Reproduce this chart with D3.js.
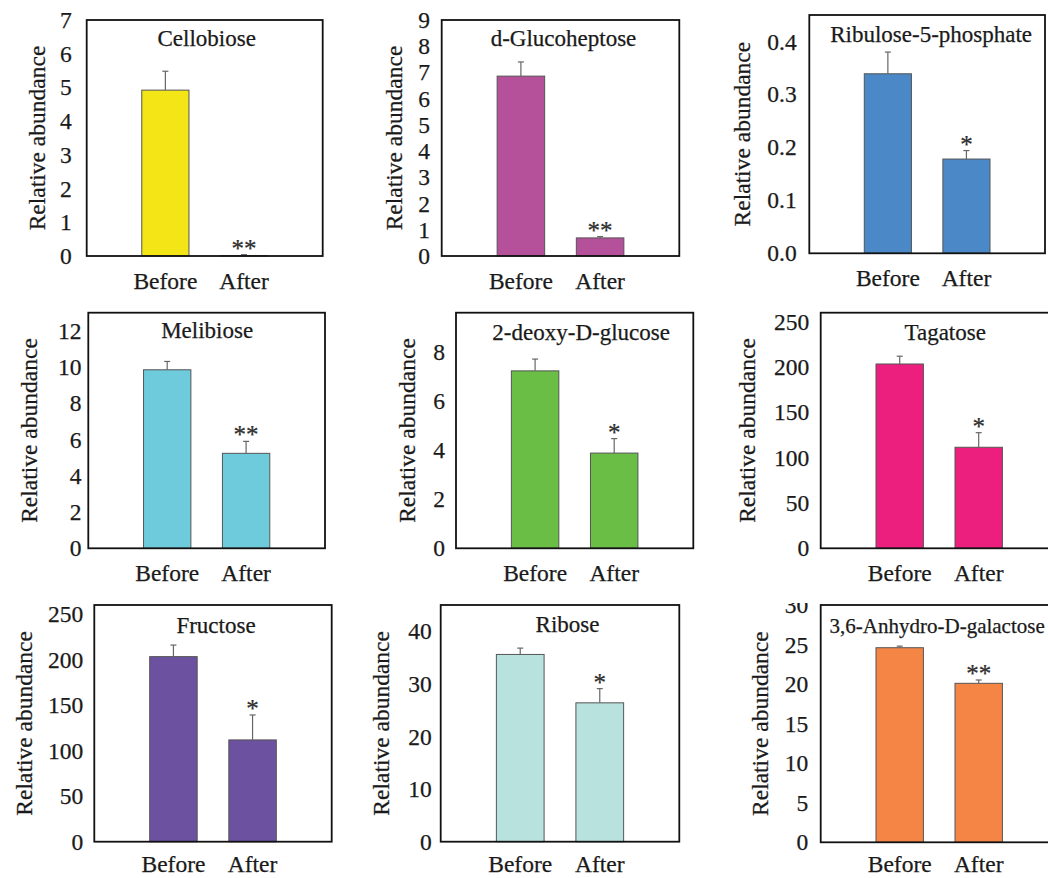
<!DOCTYPE html>
<html><head><meta charset="utf-8">
<script src="https://cdn.jsdelivr.net/npm/d3@7"></script>
<style>
html,body{margin:0;padding:0;background:#fff;}
svg{display:block;}
svg text{font-family:"Liberation Serif","Times New Roman",serif !important;fill:#1a1a1a;stroke:#1a1a1a;stroke-width:0.25px;}
</style></head>
<body>
<svg id="chart" width="1048" height="878"></svg>
<script>
// ---- data ----
const categories = ["Before", "After"];
const compounds = ["Cellobiose", "d-Glucoheptose", "Ribulose-5-phosphate", "Melibiose", "2-deoxy-D-glucose", "Tagatose", "Fructose", "Ribose", "3,6-Anhydro-D-galactose"];
const meanBefore = [4.92, 6.86, 0.339, 9.85, 7.23, 203.4, 203.3, 35.6, 24.6];
const meanAfter  = [0.01, 0.69, 0.178, 5.24, 3.88, 111.5, 111.8, 26.4, 20.1];
const errBefore  = [0.56, 0.54, 0.041, 0.46, 0.48, 8.6, 12.7, 1.2, 0.2];
const errAfter   = [0.03, 0.05, 0.016, 0.66, 0.59, 16.1, 27.4, 2.7, 0.42];
const significance = ["**", "**", "*", "**", "*", "*", "*", "*", "**"];
const yMax = [7, 9, 0.45, 13, 9.6, 260, 260, 45, 30];
const yTickStep = [1, 1, 0.1, 2, 2, 50, 50, 10, 5];
const yTickFormat = ["d", "d", ".1f", "d", "d", "d", "d", "d", "d"];
const barColors = ["#F4E516", "#B5519B", "#4A88C7", "#6ECBDC", "#6ABD45", "#EC1F7E", "#6C51A0", "#B8E2DE", "#F48544"];

// ---- layout ----
const SERIF = "'Liberation Serif', 'Times New Roman', serif";
const frames = [
  {x: 86.7, y: 20, w: 236, h: 236, tickPad: 15, titleDx: 2, titleY: 46, titleSize: 23, yTitleX: 45, xLabY: 32.5},
  {x: 441.7, y: 20, w: 237.6, h: 236, tickPad: 11.7, titleDx: 3, titleY: 46, titleSize: 23, yTitleX: 401.7, xLabY: 32.5},
  {x: 809.3, y: 15, w: 235.7, h: 238.3, tickPad: 12.6, titleDx: 4, titleY: 42, titleSize: 23, yTitleX: 750, xLabY: 32.5},
  {x: 88.3, y: 312.7, w: 236.7, h: 235.6, tickPad: 6.7, titleDx: 0.5, titleY: 338, titleSize: 23, yTitleX: 36.7, xLabY: 33},
  {x: 456, y: 312.7, w: 237.3, h: 235.6, tickPad: 11, titleDx: 6.5, titleY: 340, titleSize: 23, yTitleX: 415, xLabY: 33},
  {x: 820.7, y: 312.7, w: 237, h: 235.6, tickPad: 11.4, titleDx: 6, titleY: 340, titleSize: 23, yTitleX: 755, xLabY: 33},
  {x: 94.3, y: 605, w: 237.4, h: 236.7, tickPad: 11, titleDx: 3, titleY: 632.5, titleSize: 23, yTitleX: 31.7, xLabY: 30},
  {x: 440.7, y: 605, w: 238.6, h: 236.7, tickPad: 9, titleDx: 7.5, titleY: 631.5, titleSize: 23, yTitleX: 389.3, xLabY: 30},
  {x: 820.7, y: 605, w: 237, h: 237.3, tickPad: 12.4, titleDx: -2, titleY: 633, titleSize: 21, yTitleX: 768.3, xLabY: 29.4}
];

const svg = d3.select("#chart");
const defs = svg.append("defs");
defs.append("clipPath").attr("id", "clipTop9")
  .append("rect").attr("x", 700).attr("y", 603).attr("width", 348).attr("height", 300);

compounds.forEach((name, i) => {
  const f = frames[i];
  const g = svg.append("g");
  const x = d3.scaleBand().domain(categories).range([f.x, f.x + f.w]).paddingInner(0.4).paddingOuter(0.7);
  const y = d3.scaleLinear().domain([0, yMax[i]]).range([f.y + f.h, f.y]);
  const rows = categories.map((c, k) => ({
    cat: c,
    v: k === 0 ? meanBefore[i] : meanAfter[i],
    e: k === 0 ? errBefore[i] : errAfter[i],
    sig: k === 0 ? "" : significance[i]
  }));

  // bars
  g.selectAll("rect.bar").data(rows).join("rect")
    .attr("class", "bar")
    .attr("x", d => x(d.cat))
    .attr("width", x.bandwidth())
    .attr("y", d => y(d.v))
    .attr("height", d => y(0) - y(d.v))
    .attr("fill", barColors[i])
    .attr("stroke", "#555")
    .attr("stroke-width", 1);

  // error bars (upper only)
  const cx = d => x(d.cat) + x.bandwidth() / 2;
  g.selectAll("line.err").data(rows).join("line")
    .attr("class", "err")
    .attr("x1", cx).attr("x2", cx)
    .attr("y1", d => y(d.v)).attr("y2", d => y(d.v + d.e))
    .attr("stroke", "#666").attr("stroke-width", 1.2);
  g.selectAll("line.cap").data(rows).join("line")
    .attr("class", "cap")
    .attr("x1", d => cx(d) - 3).attr("x2", d => cx(d) + 3)
    .attr("y1", d => y(d.v + d.e)).attr("y2", d => y(d.v + d.e))
    .attr("stroke", "#666").attr("stroke-width", 1.2);

  // significance asterisks
  g.selectAll("text.sig").data(rows.filter(d => d.sig)).join("text")
    .attr("class", "sig")
    .attr("x", cx)
    .attr("y", d => y(d.v + d.e) + 2)
    .attr("text-anchor", "middle")
    .attr("font-family", SERIF)
    .style("font-size", "25px")
    .style("fill", "#333")
    .text(d => d.sig);

  // y axis tick labels
  const ticks = d3.range(0, yMax[i] + yTickStep[i] * 0.01, yTickStep[i]);
  const yAxis = d3.axisLeft(y).tickValues(ticks).tickFormat(d3.format(yTickFormat[i])).tickSize(0).tickPadding(f.tickPad);
  const yWrap = g.append("g");
  if (i === 8) yWrap.attr("clip-path", "url(#clipTop9)");
  const ya = yWrap.append("g").attr("transform", `translate(${f.x},0)`).call(yAxis);
  ya.attr("font-family", SERIF).attr("font-size", 23);
  ya.select(".domain").remove();
  ya.selectAll("text").attr("font-family", SERIF).style("font-size", "23.5px").attr("fill", "#1a1a1a");

  // x axis labels
  const xAxis = d3.axisBottom(x).tickSize(0).tickPadding(0);
  const xa = g.append("g").attr("transform", `translate(0,${f.y + f.h})`).call(xAxis);
  xa.attr("font-family", SERIF).attr("font-size", 23);
  xa.select(".domain").remove();
  xa.selectAll("text").attr("dy", null).attr("y", f.xLabY)
    .attr("font-family", SERIF).style("font-size", "23.5px").attr("fill", "#1a1a1a");

  // frame
  g.append("rect")
    .attr("x", f.x).attr("y", f.y).attr("width", f.w).attr("height", f.h)
    .attr("fill", "none").attr("stroke", "#111").attr("stroke-width", 1.8);

  // title
  g.append("text")
    .attr("x", f.x + f.w / 2 + f.titleDx)
    .attr("y", f.titleY)
    .attr("text-anchor", "middle")
    .attr("font-family", SERIF)
    .style("font-size", f.titleSize + "px")
    .text(name);

  // y axis title
  g.append("text")
    .attr("transform", `translate(${f.yTitleX},${f.y + f.h / 2}) rotate(-90)`)
    .attr("text-anchor", "middle")
    .attr("font-family", SERIF)
    .style("font-size", "23.5px")
    .text("Relative abundance");
});
</script>
</body></html>
